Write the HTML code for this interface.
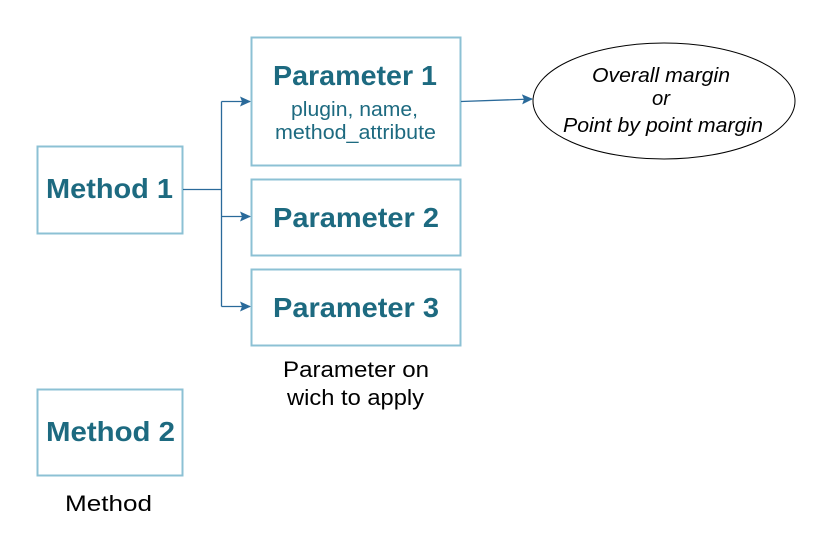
<!DOCTYPE html>
<html><head><style>body{margin:0;background:#fff}svg text{font-family:"Liberation Sans",Arial,sans-serif}</style></head><body>
<svg width="825" height="550" xmlns="http://www.w3.org/2000/svg">
<defs><marker id="a" markerWidth="11" markerHeight="10" refX="10" refY="5" orient="auto" markerUnits="userSpaceOnUse"><path d="M0,0 L11,5 L0,10 L2,5 z" fill="#2a6a9a"/></marker></defs>
<g fill="#fff" stroke="#8cc1d4" stroke-width="2">
<rect x="37.5" y="146.5" width="145" height="87"/>
<rect x="37.5" y="389.5" width="145" height="86"/>
<rect x="251.5" y="37.5" width="209" height="128"/>
<rect x="251.5" y="179.5" width="209" height="76"/>
<rect x="251.5" y="269.5" width="209" height="76"/>
</g>
<g stroke="#2a6a9a" stroke-width="1.3" fill="none">
<path d="M183,189.5 H221.5"/>
<path d="M221.5,101.5 V306.5"/>
<path d="M221.5,306.5 H250" marker-end="url(#a)"/>
<path d="M221.5,101.5 H250" marker-end="url(#a)"/>
<path d="M221.5,216.5 H250" marker-end="url(#a)"/>
<path d="M461,101.5 L532,99" marker-end="url(#a)"/>
</g>
<ellipse cx="664" cy="101" rx="131" ry="58" fill="#fff" stroke="#000" stroke-width="1"/>
<g fill="#1d6a80" font-weight="bold" font-size="28" lengthAdjust="spacingAndGlyphs">
<text x="46" y="198" textLength="127" lengthAdjust="spacingAndGlyphs">Method 1</text>
<text x="46" y="441" textLength="129" lengthAdjust="spacingAndGlyphs">Method 2</text>
<text x="273" y="85" textLength="164" lengthAdjust="spacingAndGlyphs">Parameter 1</text>
<text x="273" y="227" textLength="166" lengthAdjust="spacingAndGlyphs">Parameter 2</text>
<text x="273" y="317" textLength="166" lengthAdjust="spacingAndGlyphs">Parameter 3</text>
</g>
<g fill="#1d6a80" font-size="20">
<text x="291" y="116" textLength="127" lengthAdjust="spacingAndGlyphs">plugin, name,</text>
<text x="275" y="139" textLength="161" lengthAdjust="spacingAndGlyphs">method_attribute</text>
</g>
<g fill="#000" font-size="20" font-style="italic">
<text x="592" y="82" textLength="138" lengthAdjust="spacingAndGlyphs">Overall margin</text>
<text x="652" y="105" textLength="18" lengthAdjust="spacingAndGlyphs">or</text>
<text x="563" y="132" textLength="200" lengthAdjust="spacingAndGlyphs">Point by point margin</text>
</g>
<g fill="#000" font-size="22">
<text x="283" y="377" textLength="146" lengthAdjust="spacingAndGlyphs">Parameter on</text>
<text x="287" y="405" textLength="137" lengthAdjust="spacingAndGlyphs">wich to apply</text>
<text x="65" y="511" textLength="87" lengthAdjust="spacingAndGlyphs">Method</text>
</g>
</svg>
</body></html>
